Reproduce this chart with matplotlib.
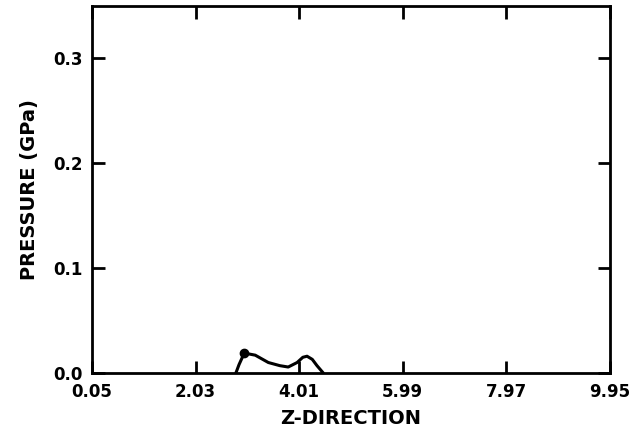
import matplotlib.pyplot as plt

# Pressure profile along the z direction
z = [2.80, 2.86, 2.96, 3.17, 3.42, 3.64, 3.80, 3.97, 4.08, 4.16, 4.26, 4.35, 4.47]
pressure = [0.0, 0.008, 0.019, 0.017, 0.010, 0.007, 0.0057, 0.010, 0.015, 0.016, 0.013, 0.007, 0.0]

# marked point on the curve
peak_z = [2.96]
peak_p = [0.019]

x_ticks = [0.05, 2.03, 4.01, 5.99, 7.97, 9.95]
x_labels = ["0.05", "2.03", "4.01", "5.99", "7.97", "9.95"]
y_ticks = [0.0, 0.1, 0.2, 0.3]
y_labels = ["0.0", "0.1", "0.2", "0.3"]

fig = plt.figure(figsize=(6.36, 4.4), dpi=100)
ax = fig.add_axes([92 / 636, 1 - 373 / 440, 518 / 636, 367 / 440])

ax.plot(z, pressure, color="black", linewidth=2.2, solid_capstyle="round")
ax.plot(peak_z, peak_p, "o", color="black", markersize=6)

ax.set_xlim(0.05, 9.95)
ax.set_ylim(0.0, 0.35)

ax.set_xticks(x_ticks)
ax.set_xticklabels(x_labels)
ax.set_yticks(y_ticks)
ax.set_yticklabels(y_labels)

ax.tick_params(direction="in", length=9, width=2, top=True, right=True,
               labelsize=12, pad=7)
for lbl in ax.get_xticklabels() + ax.get_yticklabels():
    lbl.set_fontweight("bold")

for s in ax.spines.values():
    s.set_linewidth(2)

ax.set_xlabel("Z-DIRECTION", fontsize=14, fontweight="bold", labelpad=6)
ax.set_ylabel("PRESSURE (GPa)", fontsize=14, fontweight="bold", labelpad=10)

fig.savefig("out.png", dpi=100)
